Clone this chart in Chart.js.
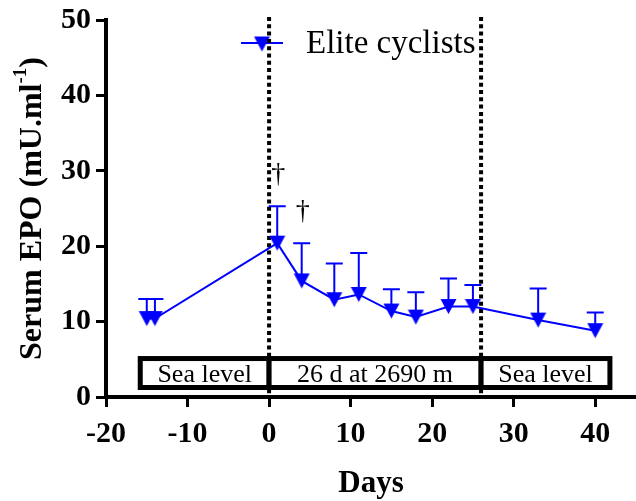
<!DOCTYPE html>
<html><head><meta charset="utf-8">
<script src="https://cdn.jsdelivr.net/npm/chart.js@4.4.1/dist/chart.umd.min.js"></script>
<style>html,body{margin:0;padding:0;background:#fff}#wrap{width:636px;height:501px}</style>
</head><body><div id="wrap"><canvas id="c" width="636" height="501"></canvas></div>
<script>
// ---- data ----
const days = [-15, -14, 1, 4, 8, 11, 15, 18, 22, 25, 33, 40];
const epo = [10.4, 10.4, 20.4, 15.4, 12.9, 13.6, 11.4, 10.6, 12.0, 12.0, 10.2, 8.8];
const epoSD = [2.6, 2.6, 4.9, 5.0, 4.8, 5.5, 2.9, 3.3, 3.7, 2.85, 4.2, 2.4];
const seriesName = 'Elite cyclists';
const xTicks = [-20, -10, 0, 10, 20, 30, 40];
const yTicks = [0, 10, 20, 30, 40, 50];
const phaseStart = [-15.8, 0, 26];
const phaseEnd = [0, 26, 41.8];
const phaseLabels = ['Sea level', '26 d at 2690 m', 'Sea level'];
const boundaryDays = [0, 26];
const daggerDays = [1, 4];
const xTitle = 'Days';
const yTitleMain = 'Serum EPO (mU.ml';
const yTitleSup = '-1';
const yTitleEnd = ')';

const SERIF = '"Liberation Serif", "Times New Roman", serif';
const BLUE = '#0000FF';

// downward triangle marker, centred on its bounding box
const tri = document.createElement('canvas');
tri.width = 17; tri.height = 17;
(function () {
  const t = tri.getContext('2d');
  t.fillStyle = BLUE;
  t.beginPath(); t.moveTo(0.5, 1); t.lineTo(16.5, 1); t.lineTo(8.5, 16); t.closePath(); t.fill();
})();

const decor = {
  id: 'decor',
  beforeDatasetsDraw(chart, args, opts) {
    const ctx = chart.ctx, xs = chart.scales.x, ys = chart.scales.y;
    ctx.save();
    // phase boxes
    const yTop = ys.getPixelForValue(opts.boxHigh), yBot = ys.getPixelForValue(opts.boxLow);
    phaseStart.forEach((s, i) => {
      const x1 = xs.getPixelForValue(s), x2 = xs.getPixelForValue(phaseEnd[i]);
      ctx.fillStyle = '#fff';
      ctx.fillRect(x1, yTop, x2 - x1, yBot - yTop);
      ctx.lineWidth = 5; ctx.strokeStyle = '#000';
      ctx.strokeRect(x1, yTop, x2 - x1, yBot - yTop);
      ctx.fillStyle = '#000';
      ctx.font = '26px ' + SERIF;
      ctx.textAlign = 'center'; ctx.textBaseline = 'alphabetic';
      ctx.fillText(phaseLabels[i], (x1 + x2) / 2, (yTop + yBot) / 2 + 9);
    });
    // legend
    const ly = 43;
    ctx.strokeStyle = BLUE; ctx.lineWidth = 2; ctx.setLineDash([]);
    ctx.beginPath(); ctx.moveTo(241, ly); ctx.lineTo(283, ly); ctx.stroke();
    ctx.drawImage(tri, 262 - 8.5, ly + 1 - 8.5);
    ctx.fillStyle = '#000'; ctx.font = '33px ' + SERIF;
    ctx.textAlign = 'left'; ctx.textBaseline = 'alphabetic';
    ctx.fillText(seriesName, 306, 53);
    // dotted boundaries
    ctx.strokeStyle = '#000'; ctx.lineWidth = 4; ctx.setLineDash([4, 3.3]);
    boundaryDays.forEach(d => {
      const x = xs.getPixelForValue(d);
      ctx.beginPath(); ctx.moveTo(x, ys.getPixelForValue(50) - 3); ctx.lineTo(x, ys.getPixelForValue(0)); ctx.stroke();
    });
    ctx.setLineDash([]);
    // error bars (upper only)
    ctx.strokeStyle = BLUE; ctx.lineWidth = 2;
    days.forEach((d, i) => {
      const x = xs.getPixelForValue(d);
      const y0 = ys.getPixelForValue(epo[i]), y1 = ys.getPixelForValue(epo[i] + epoSD[i]);
      ctx.beginPath();
      ctx.moveTo(x, y0); ctx.lineTo(x, y1);
      ctx.moveTo(x - 8.5, y1); ctx.lineTo(x + 8.5, y1);
      ctx.stroke();
    });
    ctx.restore();
  },
  afterDraw(chart) {
    const ctx = chart.ctx, xs = chart.scales.x, ys = chart.scales.y;
    ctx.save();
    // daggers
    ctx.fillStyle = '#000'; ctx.font = '28px ' + SERIF;
    ctx.textAlign = 'center'; ctx.textBaseline = 'middle';
    daggerDays.forEach(d => {
      const i = days.indexOf(d);
      const x = xs.getPixelForValue(d) + 1;
      const y = ys.getPixelForValue(epo[i] + epoSD[i]) - 32;
      ctx.fillText('\u2020', x, y);
    });
    // y title with superscript
    ctx.translate(0, (chart.chartArea.top + chart.chartArea.bottom) / 2);
    ctx.rotate(-Math.PI / 2);
    ctx.textAlign = 'left'; ctx.textBaseline = 'alphabetic';
    const fMain = 'bold 32px ' + SERIF, fSup = 'bold 19px ' + SERIF;
    ctx.font = fMain;
    const w1 = ctx.measureText(yTitleMain).width, w3 = ctx.measureText(yTitleEnd).width;
    ctx.font = fSup;
    const w2 = ctx.measureText(yTitleSup).width;
    let x0 = -(w1 + w2 + w3) / 2;
    const base = 41;
    ctx.font = fMain; ctx.fillText(yTitleMain, x0, base); x0 += w1;
    ctx.font = fSup; ctx.fillText(yTitleSup, x0, base - 15); x0 += w2;
    ctx.font = fMain; ctx.fillText(yTitleEnd, x0, base);
    ctx.restore();
  }
};

const axisGrid = { display: true, drawOnChartArea: false, drawTicks: true, tickLength: 10, tickWidth: 3, tickColor: '#000', color: '#000' };
const axisBorder = { display: true, color: '#000', width: 4 };

new Chart(document.getElementById('c'), {
  type: 'line',
  data: {
    datasets: [{
      label: seriesName,
      data: days.map((d, i) => ({ x: d, y: epo[i] })),
      borderColor: BLUE,
      backgroundColor: BLUE,
      borderWidth: 2,
      tension: 0,
      pointStyle: tri,
      pointRadius: 8,
      pointHoverRadius: 8,
      clip: false
    }]
  },
  options: {
    responsive: false,
    devicePixelRatio: 1,
    animation: false,
    layout: { autoPadding: false, padding: { top: 20, right: 0, left: 0, bottom: 0 } },
    plugins: { legend: { display: false }, tooltip: { enabled: false }, decor: { boxLow: 1.26, boxHigh: 5.1 } },
    scales: {
      x: {
        type: 'linear', min: -20, max: 45,
        afterBuildTicks: s => { s.ticks = xTicks.map(v => ({ value: v })); },
        afterFit: s => { s.height = 104; s.paddingLeft = 0; s.paddingRight = 0; },
        ticks: { font: { family: SERIF, size: 30, weight: 'bold' }, color: '#000', padding: 9, maxRotation: 0, includeBounds: false },
        grid: axisGrid, border: axisBorder,
        title: { display: true, text: xTitle, color: '#000', font: { family: SERIF, size: 31, weight: 'bold' }, padding: { top: 0, bottom: -2 } }
      },
      y: {
        type: 'linear', min: 0, max: 50,
        afterBuildTicks: s => { s.ticks = yTicks.map(v => ({ value: v })); },
        afterFit: s => { s.width = 106; s.paddingTop = 0; s.paddingBottom = 0; },
        ticks: { font: { family: SERIF, size: 30, weight: 'bold' }, color: '#000', padding: 5 },
        grid: axisGrid, border: axisBorder
      }
    }
  },
  plugins: [decor]
});
</script></body></html>
